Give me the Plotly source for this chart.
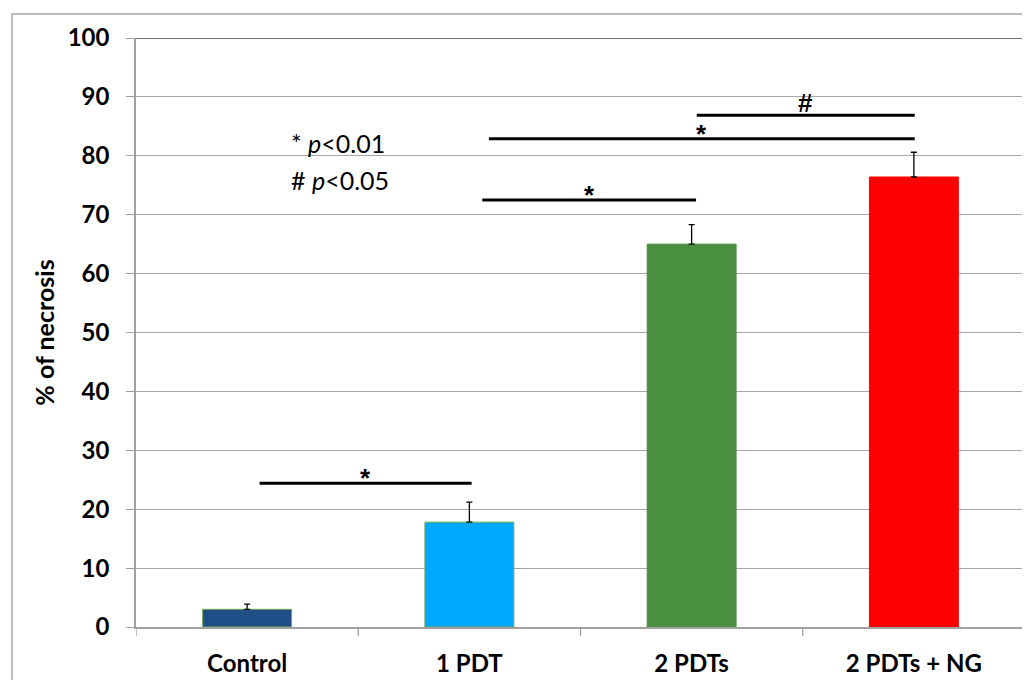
import plotly.graph_objects as go

categories = ["Control", "1 PDT", "2 PDTs", "2 PDTs + NG"]
necrosis = [3.0, 17.8, 65.0, 76.4]
err_up = [0.9, 3.4, 3.3, 4.2]
bar_colors = ["#1f4e87", "#00a8ff", "#4a8f3f", "#ff0000"]
outline_colors = ["#6aa84f", "#6aa84f", "#4a8f3f", "#ff0000"]
y_ticks = [0, 10, 20, 30, 40, 50, 60, 70, 80, 90, 100]

# significance bars: (x start, x end in category index units, y level, label)
sig_bars = [
    (0.056, 1.01, 24.4, "*"),
    (1.058, 2.02, 72.5, "*"),
    (1.088, 3.004, 82.9, "*"),
    (2.023, 3.004, 86.9, "#"),
]

FONT = "Lato, 'Open Sans', sans-serif"
W, H = 1022, 672
L, R, T, B = 128, 5, 30, 53
PW, PH = W - L - R, H - T - B

fig = go.Figure()
fig.add_trace(go.Bar(
    x=list(range(len(categories))), y=necrosis,
    width=0.40,
    marker=dict(color=bar_colors, line=dict(color=outline_colors, width=1)),
    error_y=dict(type="data", symmetric=False, array=err_up,
                 arrayminus=[0] * len(err_up), color="black",
                 thickness=1.3, width=3),
    showlegend=False,
))

shapes = []
# outer border
shapes.append(dict(type="rect", xref="paper", yref="paper",
                   x0=-(L - 4) / PW, x1=1 + 1 / PW, y0=-0.2, y1=1 + (T - 6) / PH,
                   line=dict(color="#a6a6a6", width=1.5), layer="below"))
# top line at 100
shapes.append(dict(type="line", xref="paper", yref="y", x0=0, x1=1, y0=100, y1=100,
                   line=dict(color="#404040", width=1.3)))
for x0, x1, yv, lab in sig_bars:
    shapes.append(dict(type="line", xref="x", yref="y", x0=x0, x1=x1, y0=yv, y1=yv,
                       line=dict(color="black", width=3)))
# category boundary ticks on x axis
for b in [-0.5, 0.5, 1.5, 2.5, 3.5]:
    shapes.append(dict(type="line", xref="x", yref="paper", x0=b, x1=b, y0=0,
                       y1=-9 / PH, line=dict(color="#a0a0a0", width=1.3)))

annotations = []
for x0, x1, yv, lab in sig_bars:
    annotations.append(dict(x=(x0 + x1) / 2, y=yv, xref="x", yref="y",
                            text=f"<b>{lab}</b>",
                            showarrow=False, yanchor="bottom",
                            yshift=-12 if lab == "*" else -5,
                            font=dict(family="'Liberation Sans', Arial", size=26,
                                      color="black")))
annotations.append(dict(x=0.19, y=82.2, xref="x", yref="y", xanchor="left",
                        text="* <i>p</i><0.01", showarrow=False,
                        font=dict(family=FONT, size=25, color="black")))
annotations.append(dict(x=0.19, y=75.9, xref="x", yref="y", xanchor="left",
                        text="# <i>p</i><0.05", showarrow=False,
                        font=dict(family=FONT, size=25, color="black")))

fig.update_layout(
    width=W, height=H,
    margin=dict(l=L, r=R, t=T, b=B, autoexpand=False),
    paper_bgcolor="white", plot_bgcolor="white",
    shapes=shapes, annotations=annotations,
    xaxis=dict(
        tickmode="array", tickvals=list(range(len(categories))),
        ticktext=[f"<b>{c}</b>" for c in categories],
        range=[-0.5, 3.5], showgrid=False, zeroline=False,
        showline=True, linecolor="#a0a0a0", linewidth=1.5,
        ticks="", tickfont=dict(family=FONT, size=24, color="black"),
        ticklabelstandoff=14, automargin=False,
        fixedrange=True,
    ),
    yaxis=dict(
        range=[0, 100], tickmode="array", tickvals=y_ticks,
        ticktext=[f"<b>{v}</b>" for v in y_ticks],
        showgrid=True, gridcolor="#a6a6a6",
        gridwidth=1, zeroline=False, showline=True, linecolor="#a0a0a0",
        linewidth=1.5, ticks="outside", ticklen=8, tickcolor="#a0a0a0",
        tickfont=dict(family=FONT, size=24, color="black"),
        ticklabelstandoff=12, automargin=False,
        title=dict(text="<b>% of necrosis</b>", font=dict(family=FONT, size=25,
                   color="black"), standoff=6),
    ),
    font=dict(family=FONT, color="black"),
)

fig.write_html("out.html")
